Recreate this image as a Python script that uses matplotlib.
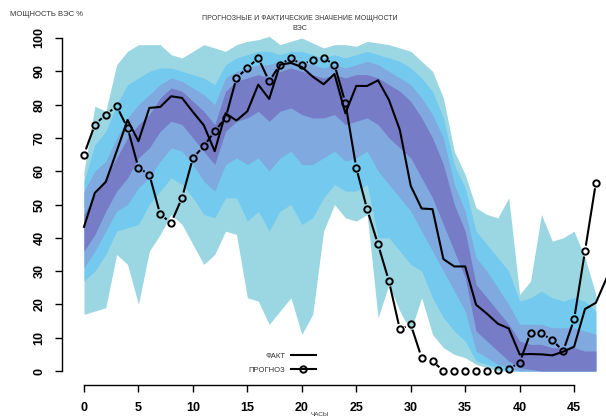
import numpy as np
import matplotlib
matplotlib.use("Agg")
import matplotlib.pyplot as plt
from matplotlib.lines import Line2D

plt.rcParams['font.family'] = ['Liberation Sans', 'DejaVu Sans']

hours = list(range(48))
fact_hours = list(range(49))

fact = [43.3, 53.5, 56.8, 66, 75.4, 69, 79, 79.3, 82.5, 82, 77.8, 73.8, 66, 77.4, 75.2, 78,
        86, 81.7, 92, 92.5, 91.3, 88.4, 86.1, 89.2, 77.4, 85.6, 85.6, 87.3, 81.4, 72.4, 55.6,
        48.8, 48.6, 33.6, 31.4, 31.4, 19.9, 17.2, 14.2, 12.8, 5, 5.1, 5, 4.7, 5.8, 7.3, 18.6,
        20.5, 28]

forecast = [65, 74, 77, 79.5, 73, 61, 59, 47, 44.5, 52, 64, 67.5, 72, 76, 88, 91, 94, 87, 92,
            94, 92, 93.5, 94, 92, 80.5, 61, 48.5, 38, 27, 12.5, 14, 4, 3, 0, 0, 0, 0, 0, 0.3,
            0.7, 2.5, 11.5, 11.3, 9.3, 6, 15.5, 36, 56.5]

# fan boundaries (outer -> inner), upper and lower
u1 = [60, 79.5, 78, 92, 96, 98, 98, 98, 95, 94, 96, 98, 97, 96, 98, 99, 99.5, 100.5, 98, 99,
      100, 98.5, 97, 98, 98, 97.5, 99, 98.5, 98, 97, 96, 93, 90, 82, 66, 59, 49, 47, 46, 52,
      23, 27, 47, 39, 40, 42, 34, 23]
u2 = [57, 68, 72, 80, 86, 88, 90, 91, 91, 90, 89, 88, 86, 92, 94, 95, 96, 96, 95, 96,
      96, 95, 94, 95, 94, 95, 96, 95, 94, 93, 91, 88, 84, 76, 62, 55, 42, 38, 34, 30,
      21, 22, 24, 22, 21, 22, 21, 18]
u3 = [54, 60, 63, 70, 76, 80, 83, 86, 88, 87, 85, 83, 80, 88, 90, 91, 92, 92, 93, 94,
      93, 92, 91, 92, 91, 92, 93, 92, 90, 88, 86, 82, 77, 70, 56, 48, 34, 30, 25, 20,
      14, 14, 14, 13, 13, 13, 12, 11]
u4 = [47, 53, 58, 64, 70, 74, 77, 82, 85, 84, 81, 78, 74, 84, 87, 88, 89, 88, 90, 91,
      90, 89, 88, 89, 88, 89, 89, 88, 86, 84, 81, 76, 70, 62, 50, 42, 26, 22, 18, 14,
      9, 8, 8, 7, 7, 7, 6, 6]
l4 = [36, 41, 48, 54, 58, 64, 67, 72, 75, 74, 70, 66, 62, 72, 75, 76, 78, 75, 78, 79,
      77, 76, 76, 77, 74, 75, 76, 74, 70, 67, 64, 58, 52, 44, 36, 28, 12, 9, 6, 3,
      1, 0.5, 0, 0, 0, 0, 0, 0]
l3 = [31, 36, 42, 48, 50, 55, 58, 63, 67, 66, 62, 57, 54, 62, 64, 62, 64, 60, 64, 66,
      62, 62, 64, 66, 63, 64, 66, 60, 56, 52, 48, 42, 36, 30, 24, 18, 6, 4, 2, 1,
      0, 0, 0, 0, 0, 0, 0, 0]
l2 = [27, 30, 35, 42, 43, 44, 50, 54, 58, 56, 52, 47, 46, 52, 52, 45, 48, 42, 48, 50,
      44, 46, 52, 56, 54, 54, 56, 40, 40, 36, 32, 30, 22, 16, 12, 9, 3, 2, 1, 0,
      0, 0, 0, 0, 0, 0, 0, 0]
l1 = [17, 18, 19, 35, 32, 20, 36, 41, 47, 44, 38, 32, 35, 42, 41, 22, 21, 14, 18, 22,
      11, 17, 42, 50, 46, 45, 47, 16, 26, 18, 12, 22, 11, 7, 5, 4, 2, 1, 0, 0,
      0, 0, 0, 0, 0, 0, 0, 0]

band_colors = ['#9BD7E3', '#74CAEE', '#80A9DF', '#767CC6']

x_ticks = [0, 5, 10, 15, 20, 25, 30, 35, 40, 45]
y_ticks = [0, 10, 20, 30, 40, 50, 60, 70, 80, 90, 100]

W, H = 606, 418
fig = plt.figure(figsize=(W / 100, H / 100), dpi=100)
ax = fig.add_axes([62 / W, 33 / H, 544 / W, 355 / H])
ax.set_xlim(-2.02, 47.93)
ax.set_ylim(-4.2, 102.4)

pairs = [(l1, u1), (l2, u2), (l3, u3), (l4, u4)]
for (lo, hi), c in zip(pairs, band_colors):
    ax.fill_between(hours, lo, hi, color=c, lw=0, zorder=1)

ax.plot(fact_hours, fact, color='black', lw=1.5, zorder=3, clip_on=True)

# forecast: type "b" line with gaps around points
r = 5.5
pts = ax.transData.transform(np.column_stack([hours, forecast]))
inv = ax.transData.inverted()
for p0, p1 in zip(pts[:-1], pts[1:]):
    d = p1 - p0
    L = np.hypot(*d)
    if L > 2 * r + 0.5:
        a = p0 + d * r / L
        b = p1 - d * r / L
        seg = inv.transform(np.vstack([a, b]))
        ax.plot(seg[:, 0], seg[:, 1], color='black', lw=1.5, zorder=4, solid_capstyle='butt')
ax.plot(hours, forecast, ls='none', marker='o', ms=4.6, mfc='none', mec='black', mew=1.4,
        zorder=5, clip_on=False)

for s in ['top', 'right']:
    ax.spines[s].set_visible(False)
ax.spines['left'].set_bounds(0, 100)
ax.spines['bottom'].set_bounds(0, 45)
ax.spines['left'].set_linewidth(1.0)
ax.spines['bottom'].set_linewidth(1.0)
ax.set_xticks(x_ticks)
ax.set_yticks(y_ticks)
ax.set_yticklabels([str(v) for v in y_ticks], rotation=90, va='center')
ax.tick_params(axis='y', length=5, width=1.0, pad=7, labelsize=9)
ax.tick_params(axis='x', length=5, width=1.0, pad=7, labelsize=9)
for lab in ax.get_xticklabels() + ax.get_yticklabels():
    lab.set_fontweight('bold')

fig.text(300 / W, 1 - 18 / H, 'ПРОГНОЗНЫЕ И ФАКТИЧЕСКИЕ ЗНАЧЕНИЕ МОЩНОСТИ',
         ha='center', va='center', fontsize=5, color='#333333')
fig.text(300 / W, 1 - 29 / H, 'ВЭС', ha='center', va='center', fontsize=5, color='#333333')
fig.text(10 / W, 1 - 14 / H, 'МОЩНОСТЬ ВЭС %', ha='left', va='center', fontsize=5.5,
         color='#333333')
fig.text(320 / W, 1 / H, 'ЧАСЫ', ha='center', va='bottom', fontsize=4.5, color='#333333')

handles = [Line2D([], [], color='black', lw=1.5),
           Line2D([], [], color='black', lw=1.5, marker='o', ms=4.6, mfc='none', mew=1.4)]
leg = ax.legend(handles, ['ФАКТ', 'ПРОГНОЗ'], markerfirst=False, frameon=False,
                loc='center', bbox_to_anchor=(282 / W, 1 - 363 / H),
                bbox_transform=fig.transFigure, fontsize=5.5, handlelength=3.2,
                numpoints=1, labelspacing=0.9, handletextpad=0.8)
for t in leg.get_texts():
    t.set_color('#333333')

fig.savefig('out.png', dpi=100)
